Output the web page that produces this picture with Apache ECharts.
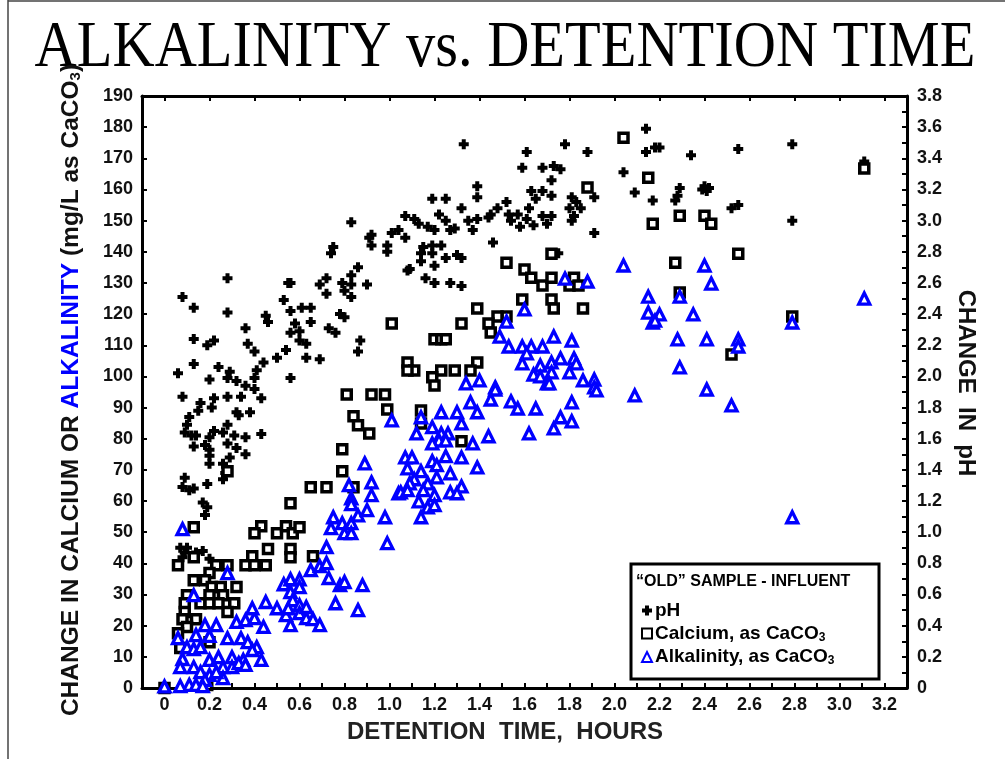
<!DOCTYPE html>
<html>
<head>
<meta charset="utf-8">
<script src="https://cdn.jsdelivr.net/npm/echarts@6/dist/echarts.min.js"></script>
<style>
html, body { margin: 0; padding: 0; background: #fff; }
#chart { width: 1005px; height: 759px; }
</style>
</head>
<body>
<div id="chart"></div>
<script>
// detention time (hours) vs change in pH
var phPoints = [
  [0.08,2.51],[0.13,2.44],[0.28,2.41],[0.06,2.02],[0.13,2.08],[0.24,2.06],[0.08,1.87],[0.13,2.24],[0.19,2.20],[0.22,2.23],
  [0.20,1.98],[0.28,1.99],[0.29,2.03],[0.32,1.97],[0.36,1.94],[0.40,1.99],[0.41,2.04],[0.44,2.09],[0.40,1.92],[0.43,1.86],
  [0.34,1.87],[0.28,1.87],[0.22,1.86],[0.16,1.83],[0.21,1.80],[0.15,1.78],[0.11,1.74],[0.32,1.77],[0.38,1.77],[0.33,1.75],
  [0.10,1.69],[0.09,1.64],[0.12,1.62],[0.14,1.62],[0.22,1.65],[0.26,1.64],[0.28,1.69],[0.31,1.62],[0.36,1.61],[0.43,1.63],
  [0.20,1.61],[0.18,1.56],[0.13,1.55],[0.20,1.53],[0.20,1.49],[0.28,1.57],[0.32,1.54],[0.36,1.50],[0.29,1.48],[0.20,1.44],
  [0.26,1.44],[0.27,1.38],[0.26,1.34],[0.09,1.35],[0.08,1.29],[0.11,1.27],[0.13,1.28],[0.19,1.31],[0.17,1.19],[0.19,1.16],
  [0.18,1.11],[0.07,0.90],[0.09,0.87],[0.10,0.90],[0.14,0.87],[0.17,0.88],[0.08,0.84],[0.20,0.83],
  [0.56,1.99],[0.54,2.17],[0.50,2.12],[0.63,2.12],[0.69,2.11],[0.53,2.49],[0.56,2.42],[0.61,2.44],[0.65,2.44],[0.69,2.59],
  [0.56,2.60],[0.79,2.60],[0.83,2.59],[0.90,2.59],[0.72,2.53],[0.80,2.55],[0.83,2.51],[0.45,2.39],[0.46,2.35],[0.36,2.31],
  [0.58,2.34],[0.60,2.29],[0.56,2.28],[0.60,2.23],[0.63,2.21],[0.65,2.35],[0.73,2.31],[0.76,2.28],[0.78,2.40],[0.80,2.38],
  [0.87,2.23],[0.86,2.16],[0.37,2.21],[0.40,2.16],
  [0.83,2.99],[1.07,3.03],[0.91,2.89],[0.92,2.91],[1.01,2.92],[1.04,2.94],[1.07,2.89],[0.75,2.83],[0.74,2.79],[0.92,2.84],
  [0.99,2.84],[0.99,2.80],[0.86,2.70],[1.08,2.68],[0.28,2.63],[0.55,2.60],[0.72,2.63],[0.83,2.65],
  [1.33,3.49],[1.78,3.49],[1.61,3.44],[1.88,3.44],[2.14,3.59],[2.14,3.44],[2.18,3.47],[1.59,3.34],[1.68,3.34],[1.73,3.35],
  [1.76,3.33],[1.72,3.26],[2.04,3.31],[1.39,3.22],[1.39,3.15],[1.19,3.14],[1.25,3.14],[1.32,3.08],[1.52,3.12],[1.48,3.08],
  [1.63,3.19],[1.68,3.19],[1.65,3.14],[1.72,3.16],[1.81,3.15],[1.83,3.12],[1.85,3.08],[1.91,3.15],[2.09,3.18],[2.17,3.13],
  [1.11,3.01],[1.13,2.98],[1.17,2.96],[1.20,2.94],[1.22,3.04],[1.25,3.00],[1.27,2.94],[1.29,2.95],[1.35,3.00],[1.37,2.94],
  [1.39,3.01],[1.44,3.02],[1.45,3.04],[1.53,3.04],[1.54,3.00],[1.57,3.04],[1.58,2.96],[1.62,3.08],[1.61,3.01],[1.64,2.97],
  [1.68,3.03],[1.72,3.03],[1.70,2.98],[1.80,3.08],[1.81,3.00],[1.82,3.03],[1.91,2.92],[1.46,2.86],[1.75,2.79],[1.19,2.84],
  [1.23,2.84],[1.15,2.83],[1.14,2.79],[1.14,2.74],[1.19,2.79],[1.25,2.76],[1.30,2.78],[1.32,2.76],[1.20,2.71],[1.09,2.69],
  [1.16,2.63],[1.20,2.60],[1.27,2.60],[1.32,2.58],
  [2.20,3.47],[2.34,3.42],[2.55,3.46],[2.79,3.49],[2.29,3.21],[2.28,3.16],[2.27,3.13],[2.40,3.22],[2.41,3.19],[2.42,3.21],
  [2.39,3.20],[2.52,3.08],[2.55,3.10],[2.79,3.00],[3.11,3.38]
];

// detention time (hours) vs change in calcium, mg/L as CaCO3
var calciumPoints = [
  [0.13,51.6],[0.28,69.6],[0.79,76.6],[0.79,69.6],[0.81,94.2],[0.92,94.2],[0.98,94.2],[0.99,89.4],[0.84,87.2],[0.86,84.3],
  [0.91,81.7],[1.01,117],[0.65,64.4],[0.72,64.4],[0.84,64.4],[0.56,59.3],[0.43,51.9],[0.40,49.7],[0.50,49.7],[0.54,51.9],
  [0.57,49.7],[0.60,51.6],[0.46,44.6],[0.56,44.6],[0.56,42],[0.66,42.3],[0.39,42.3],[0.36,39.4],[0.40,39.4],[0.45,39.4],
  [0.06,39.4],[0.13,42],[0.23,39.4],[0.28,39.4],[0.20,36.9],[0.13,34.6],[0.18,34.6],[0.21,32.4],[0.25,32.4],[0.32,32.4],
  [0.10,29.8],[0.20,29.8],[0.26,29.8],[0.09,27.2],[0.16,27.2],[0.20,27.2],[0.24,27.2],[0.31,27.2],[0.28,24.4],[0.09,24.4],
  [0.08,22.1],[0.14,22.1],[0.10,19.6],[0.06,17.6],[0.20,14.7],[0.07,12.8],[0.19,1],[0,0],
  [2.04,176.6],[2.15,163.8],[2.17,149],[1.88,160.6],[1.72,139.4],[1.52,136.5],[1.60,134.3],[1.63,131.7],[1.68,129.2],[1.72,131.7],
  [1.80,129.2],[1.82,131.7],[1.84,129.2],[1.59,124.7],[1.72,124.7],[1.73,121.8],[1.86,121.8],[1.39,121.8],[1.52,119.2],[1.48,119.2],
  [1.32,117],[1.44,117],[1.45,114.1],[1.20,111.9],[1.23,111.9],[1.25,111.9],[1.08,104.5],[1.11,101.9],[1.08,101.9],[1.23,101.9],
  [1.29,101.9],[1.39,104.5],[1.36,101.9],[1.19,99.7],[1.20,97.1],[1.14,89.1],[1.14,84.9],[1.32,79.2],
  [2.29,151.6],[2.40,151.6],[2.43,149],[2.27,136.5],[2.55,139.4],[2.29,126.9],[2.79,119.2],[2.52,107],[3.11,166.7]
];

// detention time (hours) vs change in alkalinity, mg/L as CaCO3
var alkalinityPoints = [
  [0.08,51],[0.28,36.9],[0.13,29.8],[0.06,16],[0.14,17],[0.18,20.2],[0.23,20.2],[0.20,16.7],[0.28,16],[0.10,13.1],
  [0.13,12.5],[0.16,13.1],[0.08,9.3],[0.07,6.7],[0.13,6.7],[0.16,5.1],[0.20,9],[0.24,9.9],[0.30,9.9],[0.35,9],
  [0.26,6.7],[0.30,6.7],[0.33,8],[0.36,7.4],[0.20,4.2],[0.26,3.2],[0.23,5.1],[0.18,2.6],[0.11,1],[0.07,0.6],
  [0.14,1],[0.17,0.6],[0,0.5],[0.32,21.2],[0.36,21.8],[0.40,22.4],[0.44,19.6],[0.39,25.6],[0.34,16],[0.37,14.7],
  [0.41,13.1],[0.39,12.2],[0.43,9],[0.45,27.6],[0.50,25.6],[0.54,23.4],[0.53,33.3],[0.56,34.9],[0.60,34.9],[0.56,30.8],
  [0.57,28.2],[0.60,26.6],[0.55,25.6],[0.60,24],[0.63,22.4],[0.66,22.1],[0.69,20.2],[0.56,20.2],[0.63,26],[0.60,32.4],
  [0.65,37.8],[0.69,39.1],[0.72,40.1],[0.72,45.2],[0.73,35.3],[0.78,33],[0.80,34],[0.88,33],[0.76,27.2],[0.86,25],
  [0.75,54.8],[0.79,52.9],[0.74,51.3],[0.80,49.7],[0.83,52.9],[0.83,49.7],[0.86,55.4],[0.90,57.1],[0.98,54.8],[0.99,46.5],
  [0.89,72.1],[0.82,65.1],[0.83,60.9],[0.83,59],[0.92,66],[0.92,61.9],[1.04,62.5],[1.01,85.9],
  [2.04,135.6],[1.78,131.4],[1.88,130.4],[2.15,125.6],[2.15,120.5],[2.17,117.3],[1.60,121.5],[1.52,117.6],[1.49,112.8],[1.53,109.6],
  [1.73,112.8],[1.81,111.5],[1.59,109.6],[1.63,109.6],[1.68,109.6],[1.61,107.4],[1.59,104.2],[1.67,103.5],[1.72,104.5],[1.76,105.8],
  [1.82,105.8],[1.83,104.2],[1.80,101.3],[1.64,100.6],[1.72,101.3],[1.67,100],[1.70,97.8],[1.86,98.7],[1.91,99],[1.91,96.5],
  [1.34,97.8],[1.40,98.7],[1.47,96.5],[1.47,95.8],[1.45,92.6],[1.54,92],[1.57,89.7],[1.65,89.7],[1.71,97.8],[1.92,95.5],
  [1.81,91.7],[1.76,86.9],[1.81,85.6],[1.73,83.3],[1.62,81.7],[2.09,93.9],[1.36,91.7],[1.39,88.5],[1.30,88.5],[1.23,88.5],
  [1.14,86.9],[1.32,84.9],[1.19,83.7],[1.12,81.7],[1.23,81.7],[1.26,81.7],[1.44,80.8],[1.22,79.5],[1.25,79.5],[1.19,78.5],
  [1.37,78.5],[1.25,74.4],[1.32,74],[1.07,74],[1.10,74],[1.19,72.8],[1.21,71.5],[1.08,70.5],[1.39,70.8],[1.14,69.6],
  [1.27,68.9],[1.21,67.6],[1.11,67],[1.17,65.7],[1.09,65.7],[1.32,64.7],[1.05,62.8],[1.08,63.5],[1.15,63.5],[1.27,62.8],
  [1.30,62.5],[1.20,61.9],[1.13,59.9],[1.17,58],[1.20,58.7],[1.14,54.8],
  [2.40,135.6],[2.43,129.8],[2.29,125.6],[3.11,125],[2.20,119.9],[2.18,117.9],[2.35,119.9],[2.79,117.3],[2.28,111.9],[2.41,111.9],
  [2.55,111.9],[2.55,109.6],[2.29,102.9],[2.41,95.8],[2.52,90.7],[2.79,54.8]
];

var timeLabels = [0, 0.2, 0.4, 0.6, 0.8, 1.0, 1.2, 1.4, 1.6, 1.8, 2.0, 2.2, 2.4, 2.6, 2.8, 3.0, 3.2];
var seriesNames = ['pH', 'Calcium', 'Alkalinity'];

var sans = '"Liberation Sans", Arial, sans-serif';
var blue = '#0000ff';
var plusPath = 'path://M3,0h4v3h3v4h-3v3h-4v-3h-3v-4h3z';

function fmt(v) {
  return v === 0 ? '0' : v.toFixed(1);
}

var tickLabel = { fontFamily: sans, fontWeight: 'bold', fontSize: 18, color: '#111' };

var chart = echarts.init(document.getElementById('chart'));
chart.setOption({
  animation: false,
  backgroundColor: '#fff',
  grid: { left: 142, right: 98, top: 96, bottom: 71 },
  xAxis: [{
    type: 'value', min: -0.1, max: 3.3, interval: 0.1,
    axisLine: { onZero: false, lineStyle: { color: '#000', width: 3 } },
    axisTick: { inside: true, length: 5, lineStyle: { color: '#000', width: 2 } },
    axisLabel: Object.assign({ customValues: timeLabels, margin: 8, formatter: fmt }, tickLabel),
    splitLine: { show: false }
  }, {
    type: 'value', position: 'top', min: -0.1, max: 3.3,
    axisLine: { onZero: false, lineStyle: { color: '#000', width: 3 } },
    axisTick: { inside: true, length: 5, customValues: timeLabels, lineStyle: { color: '#000', width: 2 } },
    axisLabel: { show: false },
    splitLine: { show: false }
  }],
  yAxis: [{
    type: 'value', min: 0, max: 190, interval: 10,
    axisLine: { show: true, onZero: false, lineStyle: { color: '#000', width: 3 } },
    axisTick: { show: true, inside: true, length: 5, lineStyle: { color: '#000', width: 2 } },
    axisLabel: Object.assign({ margin: 9 }, tickLabel),
    splitLine: { show: false }
  }, {
    type: 'value', position: 'right', min: 0, max: 3.8, interval: 0.2,
    axisLine: { show: true, onZero: false, lineStyle: { color: '#000', width: 3 } },
    axisTick: { show: true, inside: true, length: 5, lineStyle: { color: '#000', width: 2 } },
    minorTick: { show: true, splitNumber: 2, length: 5, lineStyle: { color: '#000', width: 2 } },
    axisLabel: Object.assign({ margin: 10, formatter: fmt }, tickLabel),
    splitLine: { show: false }
  }],
  legend: {
    data: seriesNames,
    orient: 'vertical',
    left: 636, top: 596,
    itemWidth: 10, itemHeight: 10, itemGap: 4,
    selectedMode: false,
    formatter: function (name) {
      if (name === 'Calcium') return 'Calcium, as CaCO{s|3}';
      if (name === 'Alkalinity') return 'Alkalinity, as CaCO{s|3}';
      return name;
    },
    textStyle: {
      fontFamily: sans, fontWeight: 'bold', fontSize: 19, color: '#000', padding: [0, 0, 0, -2],
      rich: { s: { fontFamily: sans, fontWeight: 'bold', fontSize: 12, color: '#000', verticalAlign: 'bottom', padding: [8, 0, 0, 0] } }
    },
    z: 10
  },
  graphic: [
    { type: 'line', shape: { x1: 8, y1: 0, x2: 8, y2: 759 }, style: { stroke: '#444', lineWidth: 1.5 } },
    { type: 'line', shape: { x1: 8, y1: 1, x2: 1005, y2: 1 }, style: { stroke: '#444', lineWidth: 1.5 } },
    {
      type: 'text', x: 505, y: 49, scaleX: 0.885,
      style: {
        text: 'ALKALINITY vs. DETENTION TIME',
        font: '66px "Liberation Serif", "Times New Roman", serif',
        fill: '#000', align: 'center', verticalAlign: 'middle', textAlign: 'center', textVerticalAlign: 'middle'
      }
    },
    {
      type: 'text', x: 71, y: 390, rotation: Math.PI / 2,
      style: {
        text: '{k|CHANGE IN CALCIUM OR }{b|ALKALINITY}{k| (mg/L as CaCO}{s|3}{k|)}',
        align: 'center', verticalAlign: 'middle', textAlign: 'center', textVerticalAlign: 'middle',
        rich: {
          k: { fontFamily: sans, fontWeight: 'bold', fontSize: 24.5, fill: '#111' },
          b: { fontFamily: sans, fontWeight: 'bold', fontSize: 24.5, fill: blue },
          s: { fontFamily: sans, fontWeight: 'bold', fontSize: 15, fill: '#111', verticalAlign: 'bottom' }
        }
      }
    },
    {
      type: 'text', x: 966, y: 383, rotation: -Math.PI / 2,
      style: {
        text: 'CHANGE  IN  pH',
        font: 'bold 24px ' + sans, fill: '#111',
        align: 'center', verticalAlign: 'middle', textAlign: 'center', textVerticalAlign: 'middle'
      }
    },
    {
      type: 'text', x: 505, y: 732,
      style: {
        text: 'DETENTION  TIME,  HOURS',
        font: 'bold 24px ' + sans, fill: '#222',
        align: 'center', verticalAlign: 'middle', textAlign: 'center', textVerticalAlign: 'middle'
      }
    },
    {
      type: 'rect', z: 5,
      shape: { x: 631, y: 564, width: 248, height: 115 },
      style: { fill: '#fff', stroke: '#000', lineWidth: 3 }
    },
    {
      type: 'text', x: 636, y: 582, z: 6,
      style: {
        text: '\u201COLD\u201D SAMPLE - INFLUENT',
        font: 'bold 16px ' + sans, fill: '#000',
        align: 'left', verticalAlign: 'middle', textAlign: 'left', textVerticalAlign: 'middle'
      }
    }
  ],
  series: [{
    name: 'pH', type: 'scatter', xAxisIndex: 0, yAxisIndex: 1,
    symbol: plusPath, symbolSize: 10,
    itemStyle: { color: '#000', opacity: 1 },
    emphasis: { disabled: true },
    data: phPoints
  }, {
    name: 'Calcium', type: 'scatter', xAxisIndex: 0, yAxisIndex: 0,
    symbol: 'rect', symbolSize: 9,
    itemStyle: { color: '#fff', borderColor: '#000', borderWidth: 3.5, opacity: 1 },
    emphasis: { disabled: true },
    data: calciumPoints
  }, {
    name: 'Alkalinity', type: 'scatter', xAxisIndex: 0, yAxisIndex: 0,
    symbol: 'triangle', symbolSize: 11,
    itemStyle: { color: '#fff', borderColor: blue, borderWidth: 3.3, opacity: 1 },
    emphasis: { disabled: true },
    data: alkalinityPoints
  }]
});
</script>
</body>
</html>
